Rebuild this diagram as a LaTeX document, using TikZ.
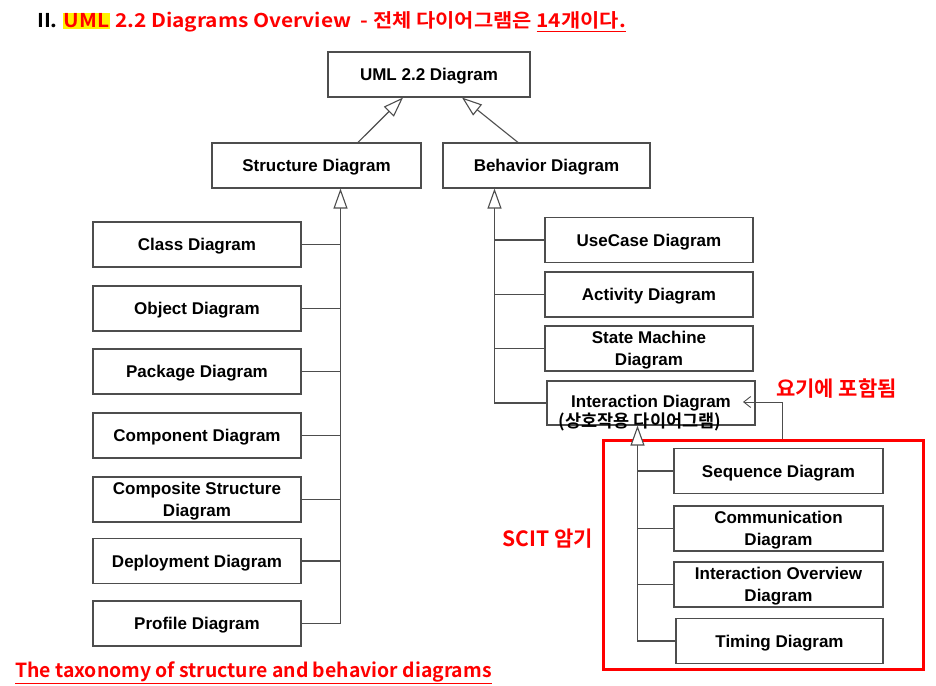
\documentclass[tikz,border=0pt]{standalone}
\usepackage{fontspec}
\setmainfont{Liberation Sans}
\newfontfamily\kofont{Noto Sans CJK KR}[BoldFont={Noto Sans CJK KR Bold}]
\usetikzlibrary{arrows.meta,positioning}
\definecolor{boxline}{HTML}{4D4D4D}
\definecolor{hired}{HTML}{FF0000}
\tikzset{
	>=latex,
}

\begin{document}
\begin{tikzpicture}[x=1pt,y=-1pt,
		diag/.style={rectangle, draw=boxline, line width=1.1pt, minimum width=208pt, minimum height=45pt, inner sep=0pt, text depth=0pt, align=center, font=\bfseries\fontsize{17}{21.5}\selectfont},
		inherit/.style={draw=boxline, line width=1.1pt, -{Triangle[open, length=20pt, width=14pt, fill=white]}},
		link/.style={draw=boxline, line width=1.1pt},
		note/.style={font=\kofont\bfseries\fontsize{21}{24}\selectfont, text=hired, inner sep=0pt},
		group/.style={rectangle, draw=hired, line width=3pt, minimum width=320pt, minimum height=229pt},
	]
		\useasboundingbox (0,0) rectangle (936,685);
		% title
		\node[anchor=west, inner sep=0pt, font=\kofont\bfseries\fontsize{19}{22}\selectfont] (title) at (37,22)
			{\scalebox{1.1}[1]{II. {\color{hired}\setlength{\fboxsep}{1pt}\colorbox{yellow}{UML} 2.2 Diagrams Overview~~- 전체 다이어그램은 \underline{14개이다.}}}};
		% top levels
		\node[diag, minimum width=202pt] (uml) at (429,74.5) {UML 2.2 Diagram};
		\node[diag, minimum width=209pt] (struct) at (316.5,165.5) {Structure Diagram};
		\node[diag, minimum width=207pt] (behav) at (546.5,165.5) {Behavior Diagram};
		\draw[inherit] ([xshift=41.5pt]struct.north) -- ([xshift=-26pt]uml.south);
		\draw[inherit] ([xshift=-28.5pt]behav.north) -- ([xshift=33pt]uml.south);
		% structure diagrams
		\node[diag] (class) at (197,244.5) {Class Diagram};
		\node[diag] (object) at (197,308.5) {Object Diagram};
		\node[diag] (package) at (197,371.5) {Package Diagram};
		\node[diag] (component) at (197,435.5) {Component Diagram};
		\node[diag] (composite) at (197,499.5) {Composite Structure\\Diagram};
		\node[diag] (deploy) at (197,561) {Deployment Diagram};
		\node[diag] (profile) at (197,623.5) {Profile Diagram};
		\coordinate (sbus) at (340.5,0);
		\draw[inherit] (profile.east) -- (profile.east -| sbus) -- (sbus |- struct.south);
		\foreach \n in {class,object,package,component,composite,deploy}
			\draw[link] (\n.east) -- (\n.east -| sbus);
		% behavior diagrams
		\node[diag] (usecase) at (649,240) {UseCase Diagram};
		\node[diag] (activity) at (649,294.5) {Activity Diagram};
		\node[diag] (state) at (649,348.5) {State Machine\\Diagram};
		\node[diag, minimum height=44pt, text depth=3pt] (interact) at (651,403) {Interaction Diagram};
		\node[font=\kofont\bfseries\fontsize{17.5}{20}\selectfont, inner sep=0pt] (interko) at (640,422) {(상호작용 다이어그램)};
		\coordinate (bbus) at (494.5,0);
		\draw[inherit] (interact.west) -- (interact.west -| bbus) -- (bbus |- behav.south);
		\foreach \n in {usecase,activity,state}
			\draw[link] (\n.west) -- (\n.west -| bbus);
		% interaction diagrams
		\node[group] (grp) at (763,554.5) {};
		\node[diag, minimum width=209pt] (sequence) at (778.5,471) {Sequence Diagram};
		\node[diag, minimum width=209pt] (comm) at (778.5,528.5) {Communication\\Diagram};
		\node[diag, minimum width=209pt] (overview) at (778.5,584.5) {Interaction Overview\\Diagram};
		\node[diag, minimum width=207pt] (timing) at (779.5,641) {Timing Diagram};
		\coordinate (ibus) at (637.5,0);
		\draw[inherit] (timing.west) -- (timing.west -| ibus) -- (ibus |- interact.south);
		\foreach \n in {sequence,comm,overview}
			\draw[link] (\n.west) -- (\n.west -| ibus);
		% notes
		\coordinate (bend) at (782,402);
		\coordinate (tip) at (743,402);
		\draw[link, line width=0.9pt, -{Straight Barb[length=7pt, width=11pt]}] (grp.north -| bend) -- (bend) -- (tip);
		\node[note] (incl) at (836.5,389) {요기에 포함됨};
		\node[note] (scit) at (547.5,539) {SCIT 암기};
		\node[note, anchor=west, font=\kofont\bfseries\fontsize{19.4}{22}\selectfont] (taxo) at (15,673) {\underline{The taxonomy of structure and behavior diagrams}};
	\end{tikzpicture}
\end{document}
